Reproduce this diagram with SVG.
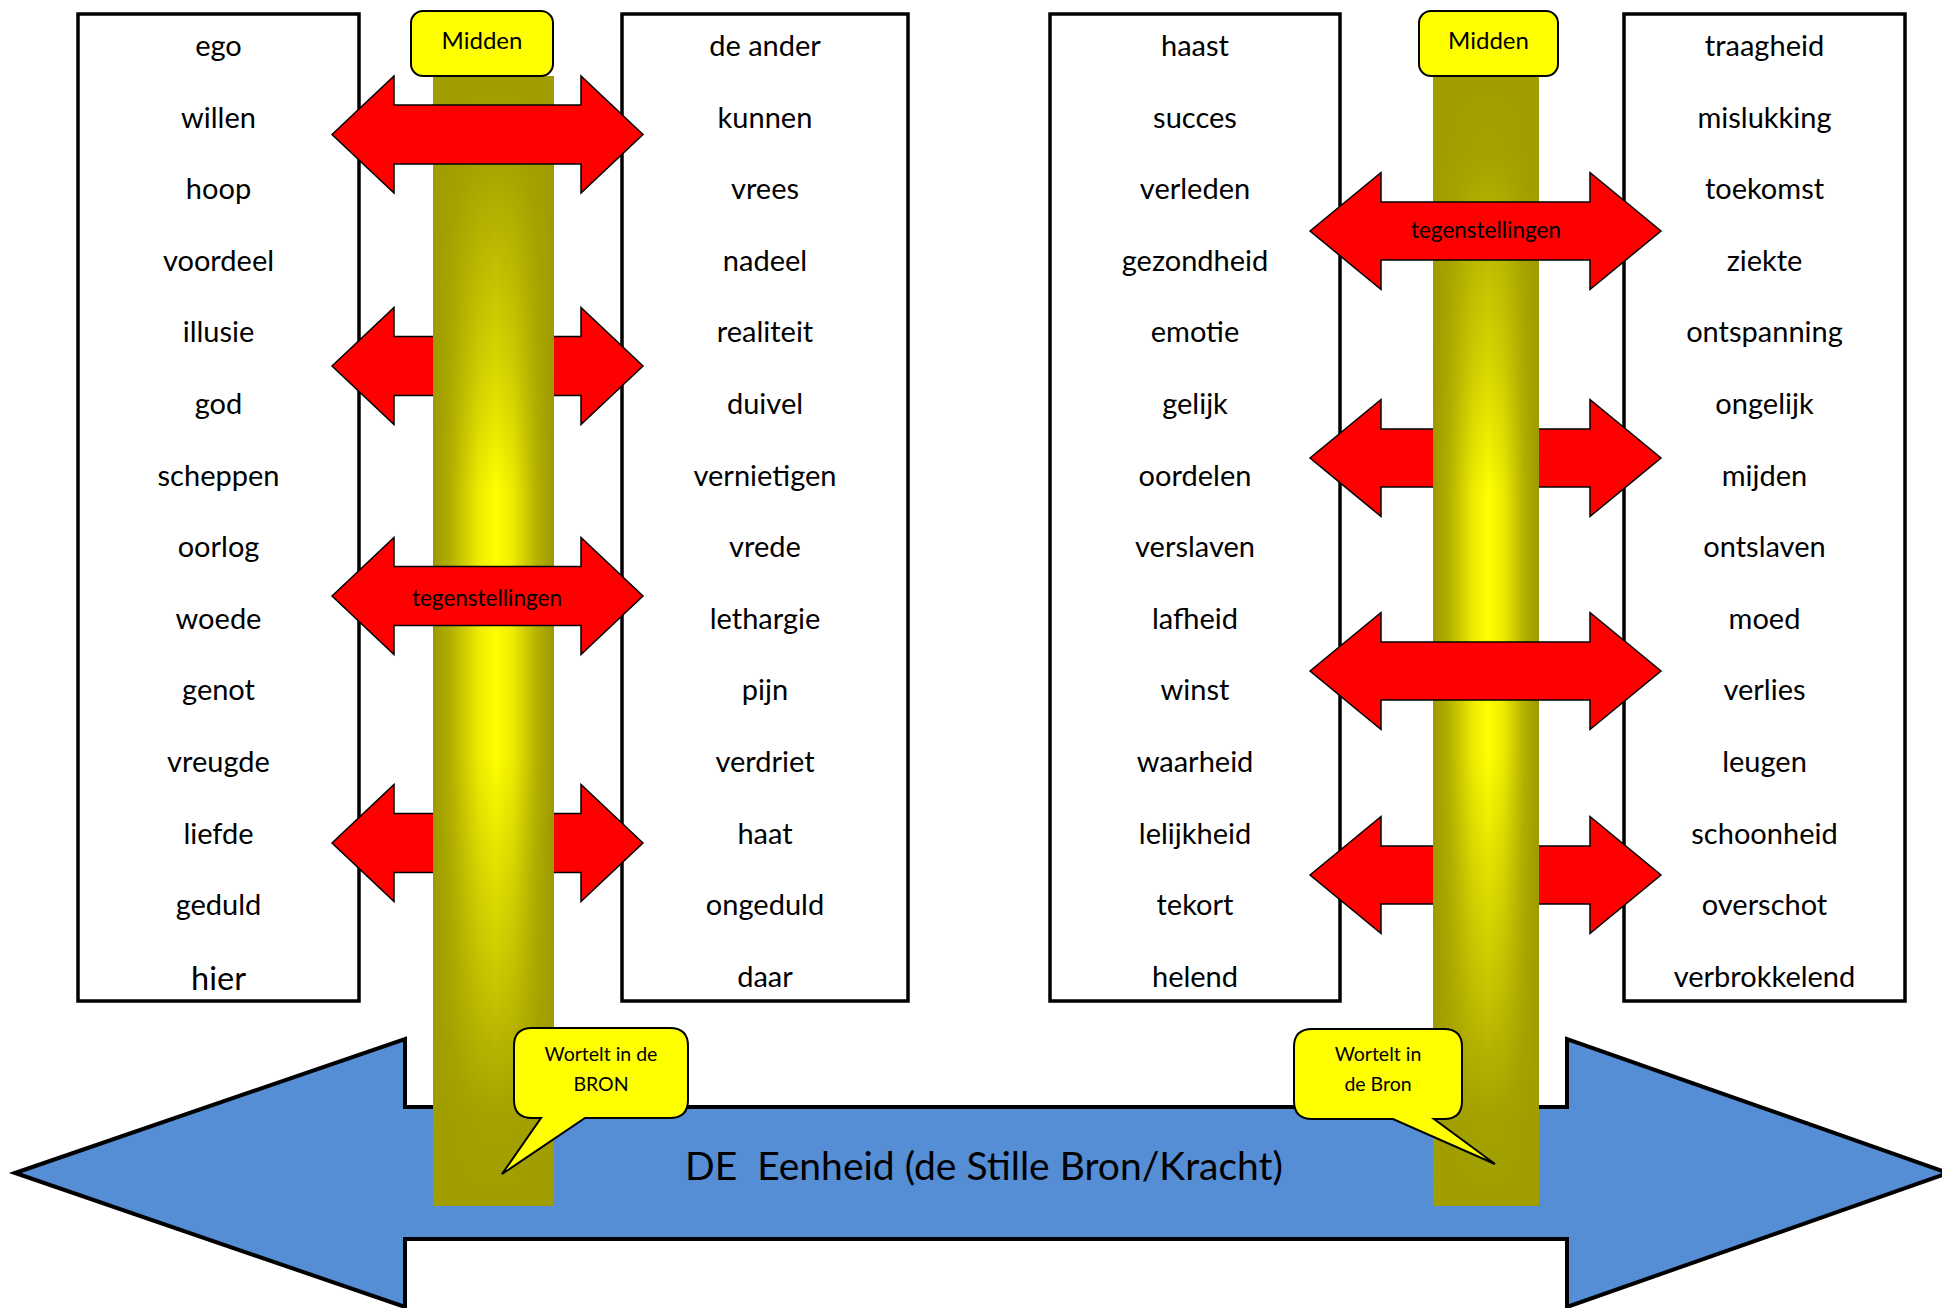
<svg xmlns="http://www.w3.org/2000/svg" width="1942" height="1308" viewBox="0 0 1942 1308">
<style>
.box{fill:#fff;stroke:#000;stroke-width:3.5}
.w{font-family:Lato,"Open Sans",sans-serif;font-size:29px;fill:#000;text-anchor:middle}
.red{fill:#ff0000;stroke:#000;stroke-width:1.5;stroke-linejoin:miter}
.lbl{font-family:Lato,"Open Sans",sans-serif;font-size:22.5px;fill:#000;text-anchor:middle}
.mid{fill:#ffff00;stroke:#000;stroke-width:2}
.midt{font-family:Lato,"Open Sans",sans-serif;font-size:24px;fill:#000;text-anchor:middle}
.call{fill:#ffff00;stroke:#000;stroke-width:2;stroke-linejoin:miter}
.callt{font-family:Lato,"Open Sans",sans-serif;font-size:19.5px;fill:#000;text-anchor:middle}
</style>
<defs>
<linearGradient id="pH" x1="0" y1="0" x2="1" y2="0">
<stop offset="0" stop-color="#9c9900"/>
<stop offset="0.15" stop-color="#b3b000"/>
<stop offset="0.38" stop-color="#eeec00"/>
<stop offset="0.52" stop-color="#ffff00"/>
<stop offset="0.66" stop-color="#eeec00"/>
<stop offset="0.86" stop-color="#b3b000"/>
<stop offset="1" stop-color="#9c9900"/>
</linearGradient>
<linearGradient id="pV" x1="0" y1="0" x2="0" y2="1">
<stop offset="0" stop-color="#a09d00" stop-opacity="1"/>
<stop offset="0.07" stop-color="#a09d00" stop-opacity="0.95"/>
<stop offset="0.15" stop-color="#a09d00" stop-opacity="0.7"/>
<stop offset="0.26" stop-color="#a09d00" stop-opacity="0.4"/>
<stop offset="0.37" stop-color="#a09d00" stop-opacity="0"/>
<stop offset="0.6" stop-color="#a09d00" stop-opacity="0"/>
<stop offset="0.7" stop-color="#a09d00" stop-opacity="0.3"/>
<stop offset="0.81" stop-color="#a09d00" stop-opacity="0.6"/>
<stop offset="0.92" stop-color="#a09d00" stop-opacity="0.95"/>
<stop offset="1" stop-color="#a09d00" stop-opacity="1"/>
</linearGradient>
<polygon id="arL" points="0,0 62,-58.5 62,-29.5 249,-29.5 249,-58.5 311,0 249,58.5 249,29.5 62,29.5 62,58.5"/>
<polygon id="arR" points="0,0 71,-58.5 71,-29 280,-29 280,-58.5 351,0 280,58.5 280,29 71,29 71,58.5"/>
</defs>

<g id="eenheid">
<polygon points="15,1173 405,1039 405,1107 1567,1107 1567,1039 1948,1173 1567,1307 1567,1239 405,1239 405,1307" fill="#558ed5" stroke="#000" stroke-width="4"/>
<text x="984" y="1180" font-family="Lato,'Open Sans',sans-serif" font-size="39px" text-anchor="middle" fill="#000" xml:space="preserve">DE  Eenheid (de Stille Bron/Kracht)</text>
</g>

<g id="box1">
<rect class="box" x="78" y="14" width="281" height="987"/>
<text class="w" x="218.5" y="56">ego</text>
<text class="w" x="218.5" y="127.6">willen</text>
<text class="w" x="218.5" y="199.2">hoop</text>
<text class="w" x="218.5" y="270.8">voordeel</text>
<text class="w" x="218.5" y="342.4">illusie</text>
<text class="w" x="218.5" y="414">god</text>
<text class="w" x="218.5" y="485.6">scheppen</text>
<text class="w" x="218.5" y="557.2">oorlog</text>
<text class="w" x="218.5" y="628.8">woede</text>
<text class="w" x="218.5" y="700.4">genot</text>
<text class="w" x="218.5" y="772">vreugde</text>
<text class="w" x="218.5" y="843.6">liefde</text>
<text class="w" x="218.5" y="915.2">geduld</text>
<text class="w" x="218.5" y="989.5" style="font-size:32.5px">hier</text>
</g>

<g id="box2">
<rect class="box" x="622" y="14" width="286" height="987"/>
<text class="w" x="765" y="56">de ander</text>
<text class="w" x="765" y="127.6">kunnen</text>
<text class="w" x="765" y="199.2">vrees</text>
<text class="w" x="765" y="270.8">nadeel</text>
<text class="w" x="765" y="342.4">realiteit</text>
<text class="w" x="765" y="414">duivel</text>
<text class="w" x="765" y="485.6">vernietigen</text>
<text class="w" x="765" y="557.2">vrede</text>
<text class="w" x="765" y="628.8">lethargie</text>
<text class="w" x="765" y="700.4">pijn</text>
<text class="w" x="765" y="772">verdriet</text>
<text class="w" x="765" y="843.6">haat</text>
<text class="w" x="765" y="915.2">ongeduld</text>
<text class="w" x="765" y="986.8">daar</text>
</g>

<g id="box3">
<rect class="box" x="1050" y="14" width="290" height="987"/>
<text class="w" x="1195" y="56">haast</text>
<text class="w" x="1195" y="127.6">succes</text>
<text class="w" x="1195" y="199.2">verleden</text>
<text class="w" x="1195" y="270.8">gezondheid</text>
<text class="w" x="1195" y="342.4">emotie</text>
<text class="w" x="1195" y="414">gelijk</text>
<text class="w" x="1195" y="485.6">oordelen</text>
<text class="w" x="1195" y="557.2">verslaven</text>
<text class="w" x="1195" y="628.8">lafheid</text>
<text class="w" x="1195" y="700.4">winst</text>
<text class="w" x="1195" y="772">waarheid</text>
<text class="w" x="1195" y="843.6">lelijkheid</text>
<text class="w" x="1195" y="915.2">tekort</text>
<text class="w" x="1195" y="986.8">helend</text>
</g>

<g id="box4">
<rect class="box" x="1624" y="14" width="281" height="987"/>
<text class="w" x="1764.5" y="56">traagheid</text>
<text class="w" x="1764.5" y="127.6">mislukking</text>
<text class="w" x="1764.5" y="199.2">toekomst</text>
<text class="w" x="1764.5" y="270.8">ziekte</text>
<text class="w" x="1764.5" y="342.4">ontspanning</text>
<text class="w" x="1764.5" y="414">ongelijk</text>
<text class="w" x="1764.5" y="485.6">mijden</text>
<text class="w" x="1764.5" y="557.2">ontslaven</text>
<text class="w" x="1764.5" y="628.8">moed</text>
<text class="w" x="1764.5" y="700.4">verlies</text>
<text class="w" x="1764.5" y="772">leugen</text>
<text class="w" x="1764.5" y="843.6">schoonheid</text>
<text class="w" x="1764.5" y="915.2">overschot</text>
<text class="w" x="1764.5" y="986.8">verbrokkelend</text>
</g>

<g id="connectors-back">
<use href="#arL" class="red" x="332" y="366"/>
<use href="#arL" class="red" x="332" y="843"/>
<use href="#arR" class="red" x="1310" y="458"/>
<use href="#arR" class="red" x="1310" y="875"/>
</g>

<g id="pillar1">
<rect x="433" y="76" width="121" height="1130" fill="url(#pH)"/>
<rect x="433" y="76" width="121" height="1130" fill="url(#pV)"/>
</g>
<g id="pillar2">
<rect x="1433" y="76" width="106" height="1130" fill="url(#pH)"/>
<rect x="1433" y="76" width="106" height="1130" fill="url(#pV)"/>
</g>

<g id="connectors">
<use href="#arL" class="red" x="332" y="134.5"/>
<use href="#arL" class="red" x="332" y="596"/>
<text class="lbl" x="487" y="606">tegenstellingen</text>
<use href="#arR" class="red" x="1310" y="231"/>
<text class="lbl" x="1486" y="238">tegenstellingen</text>
<use href="#arR" class="red" x="1310" y="671"/>
</g>

<g id="midden1">
<rect class="mid" x="411" y="11" width="142" height="65" rx="12"/>
<text class="midt" x="482" y="49">Midden</text>
</g>
<g id="midden2">
<rect class="mid" x="1419" y="11" width="139" height="65" rx="12"/>
<text class="midt" x="1488.5" y="49">Midden</text>
</g>

<g id="callout1">
<path class="call" d="M532,1028 H670 Q688,1028 688,1046 V1100 Q688,1118 670,1118 H585 L502,1174 L541,1118 H532 Q514,1118 514,1100 V1046 Q514,1028 532,1028 Z"/>
<text class="callt" x="601" y="1061">Wortelt in de</text>
<text class="callt" x="601" y="1091">BRON</text>
</g>
<g id="callout2">
<path class="call" d="M1312,1029 H1444 Q1462,1029 1462,1047 V1101 Q1462,1119 1444,1119 H1434 L1495,1164 L1393,1119 H1312 Q1294,1119 1294,1101 V1047 Q1294,1029 1312,1029 Z"/>
<text class="callt" x="1378" y="1061">Wortelt in</text>
<text class="callt" x="1378" y="1091">de Bron</text>
</g>
</svg>
